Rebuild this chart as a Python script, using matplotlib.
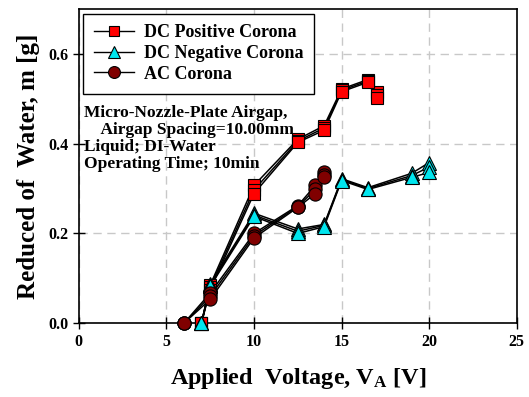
import matplotlib
matplotlib.use("Agg")
import matplotlib.pyplot as plt
from matplotlib.lines import Line2D

plt.rcParams['font.family'] = ['Liberation Serif', 'DejaVu Serif']
plt.rcParams['font.weight'] = 'bold'
plt.rcParams['mathtext.fontset'] = 'custom'
plt.rcParams['mathtext.rm'] = 'Liberation Serif:bold'
plt.rcParams['mathtext.bf'] = 'Liberation Serif:bold'
plt.rcParams['mathtext.it'] = 'Liberation Serif:bold'

# DC Positive Corona (three runs)
pos_x = [7, 7.5, 10, 12.5, 14, 15, 16.5, 17]
pos_run1 = [0, 0.085, 0.307, 0.410, 0.440, 0.522, 0.543, 0.515]
pos_run2 = [0, 0.080, 0.297, 0.406, 0.435, 0.519, 0.540, 0.508]
pos_run3 = [0, 0.075, 0.289, 0.403, 0.430, 0.516, 0.537, 0.501]

# DC Negative Corona (three runs)
neg_x = [7, 7.5, 10, 12.5, 14, 15, 16.5, 19, 20]
neg_run1 = [0, 0.088, 0.245, 0.210, 0.220, 0.322, 0.302, 0.334, 0.358]
neg_run2 = [0, 0.085, 0.241, 0.205, 0.218, 0.320, 0.300, 0.329, 0.348]
neg_run3 = [0, 0.082, 0.238, 0.200, 0.215, 0.318, 0.298, 0.325, 0.336]

# AC Corona (three runs)
ac_x = [6, 7.5, 10, 12.5, 13.5, 14]
ac_run1 = [0, 0.067, 0.200, 0.262, 0.307, 0.336]
ac_run2 = [0, 0.060, 0.195, 0.260, 0.298, 0.330]
ac_run3 = [0, 0.053, 0.190, 0.258, 0.289, 0.325]

x_ticks = [0, 5, 10, 15, 20, 25]
y_ticks = [0.0, 0.2, 0.4, 0.6]

fig = plt.figure(figsize=(5.29, 3.97), dpi=100)
ax = fig.add_axes([0.149, 0.186, 0.828, 0.791])

series = [
    (pos_x, [pos_run1, pos_run2, pos_run3], 's', '#ff0000', 8.5, 'DC Positive Corona'),
    (neg_x, [neg_run1, neg_run2, neg_run3], '^', '#00e5ee', 10, 'DC Negative Corona'),
    (ac_x, [ac_run1, ac_run2, ac_run3], 'o', '#800000', 9.5, 'AC Corona'),
]

handles = []
for xs, runs, mk, col, ms, lab in series:
    for r in runs:
        ax.plot(xs, r, color='black', lw=1.1, zorder=2)
    for r in runs:
        ax.plot(xs, r, ls='none', marker=mk, ms=ms, mfc=col, mec='black',
                mew=0.8, zorder=3, clip_on=False)
    handles.append(Line2D([0], [0], color='black', lw=1.0, marker=mk, ms=ms,
                          mfc=col, mec='black', mew=0.8, label=lab))

ax.set_xlim(0, 25)
ax.set_ylim(0, 0.7)
ax.set_xticks(x_ticks)
ax.set_yticks(y_ticks)
ax.set_xticklabels([str(t) for t in x_ticks])
ax.set_yticklabels(['%.1f' % t for t in y_ticks])
ax.tick_params(direction='inout', length=8, width=1, labelsize=11.5)
for lbl in ax.get_xticklabels() + ax.get_yticklabels():
    lbl.set_fontweight('bold')
ax.grid(True, color='#c8c8c8', ls=(0, (6, 4)), lw=1.0)
ax.set_axisbelow(True)
for s in ax.spines.values():
    s.set_linewidth(1.2)

ax.set_xlabel(r'Applied  Voltage, V$_{\mathrm{A}}$ [V]', fontsize=17.5, fontweight='bold', labelpad=12)
ax.set_ylabel('Reduced of  Water, m [g]', fontsize=18, fontweight='bold', labelpad=6)

leg = ax.legend(handles=handles, loc='upper left', bbox_to_anchor=(0.0, 1.0),
                fontsize=13, frameon=True, fancybox=False, edgecolor='black',
                handlelength=2.2, handletextpad=0.55, borderpad=0.6,
                labelspacing=0.2, borderaxespad=0.25, framealpha=1,
                markerscale=0.9)
leg.get_frame().set_linewidth(1.0)
for t in leg.get_texts():
    t.set_fontweight('bold')

ax.text(0.011, 0.695,
        'Micro-Nozzle-Plate Airgap,\n    Airgap Spacing=10.00mm\nLiquid; DI-Water\nOperating Time; 10min',
        transform=ax.transAxes, fontsize=12.5, fontweight='bold', va='top', ha='left',
        linespacing=1.08)

fig.savefig('out.png', dpi=100)
